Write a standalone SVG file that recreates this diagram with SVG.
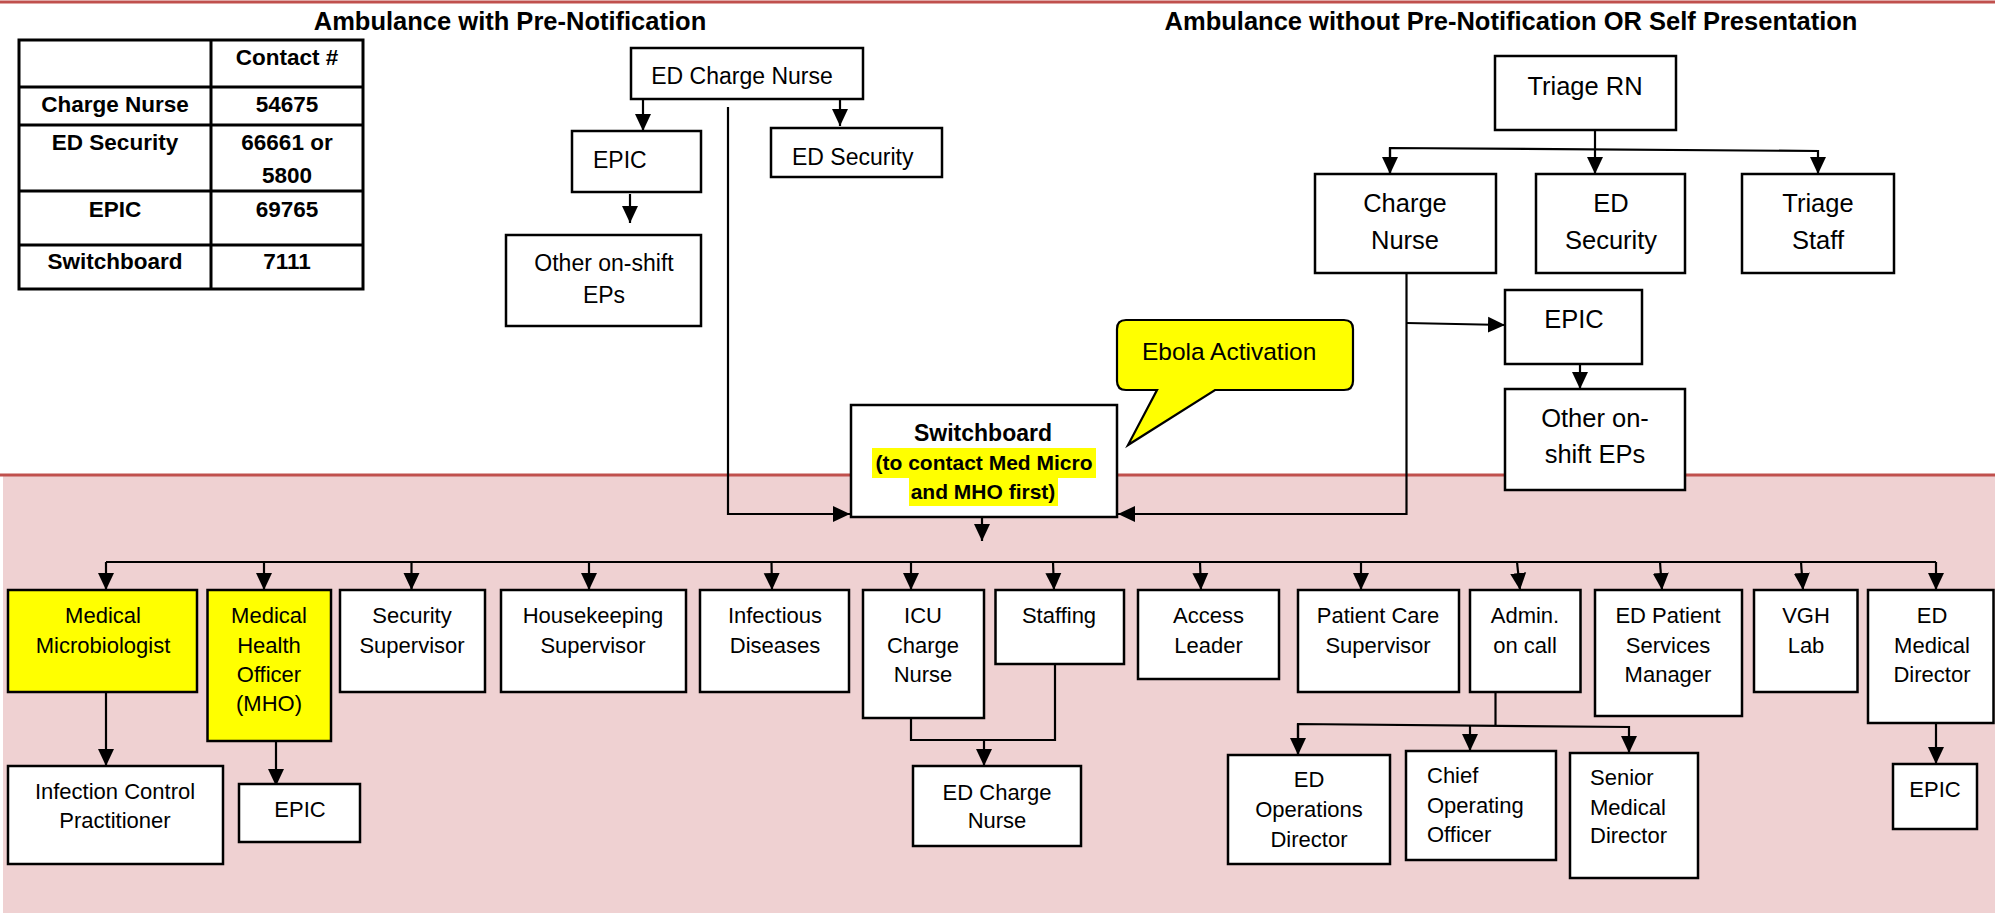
<svg xmlns="http://www.w3.org/2000/svg" width="1995" height="913" viewBox="0 0 1995 913">
<style>
text{font-family:"Liberation Sans",Arial,sans-serif;fill:#000}
.b{font-weight:bold}
.m{text-anchor:middle}
.t{font-size:25.5px;font-weight:bold;text-anchor:middle}
.tb{font-size:22.5px;font-weight:bold;text-anchor:middle}
.l23{font-size:23px}
.r25{font-size:25.5px;text-anchor:middle}
.s22{font-size:22px;text-anchor:middle}
.sl{font-size:22px}
.box{fill:#fff;stroke:#000;stroke-width:2.5}
.ybox{fill:#ffff00;stroke:#000;stroke-width:2.5}
.ln{fill:none;stroke:#000;stroke-width:2.2}
.tl{stroke:#000;stroke-width:3}
</style>
<defs>
<marker id="ah" markerUnits="userSpaceOnUse" markerWidth="18" markerHeight="18" viewBox="0 0 18 18" refX="17" refY="9" orient="auto">
<path d="M0,1 L17,9 L0,17 z" fill="#000"/>
</marker>
</defs>
<rect x="0" y="0" width="1995" height="913" fill="#fff"/>
<rect x="3" y="475" width="1992" height="438" fill="#efd1d2"/>
<line x1="0" y1="2" x2="1995" y2="2" stroke="#c0504d" stroke-width="3"/>
<line x1="0" y1="475" x2="1995" y2="475" stroke="#c0504d" stroke-width="3"/>

<g id="titles">
<text class="t" x="510" y="30">Ambulance with Pre-Notification</text>
<text class="t" x="1511" y="30">Ambulance without Pre-Notification OR Self Presentation</text>
</g>

<g id="contact-table">
<rect x="19" y="40" width="344" height="249" fill="#fff" stroke="#000" stroke-width="3"/>
<line class="tl" x1="211" y1="40" x2="211" y2="289"/>
<line class="tl" x1="19" y1="87" x2="363" y2="87"/>
<line class="tl" x1="19" y1="125" x2="363" y2="125"/>
<line class="tl" x1="19" y1="191" x2="363" y2="191"/>
<line class="tl" x1="19" y1="245" x2="363" y2="245"/>
<text class="tb" x="287" y="65">Contact #</text>
<text class="tb" x="115" y="112">Charge Nurse</text>
<text class="tb" x="287" y="112">54675</text>
<text class="tb" x="115" y="150">ED Security</text>
<text class="tb" x="287" y="150">66661 or</text>
<text class="tb" x="287" y="183">5800</text>
<text class="tb" x="115" y="217">EPIC</text>
<text class="tb" x="287" y="217">69765</text>
<text class="tb" x="115" y="269">Switchboard</text>
<text class="tb" x="287" y="269">7111</text>
</g>

<g id="connectors">
<line class="ln" x1="643" y1="99" x2="643" y2="131" marker-end="url(#ah)"/>
<line class="ln" x1="840" y1="99" x2="840" y2="126" marker-end="url(#ah)"/>
<line class="ln" x1="630" y1="194" x2="630" y2="223" marker-end="url(#ah)"/>
<polyline class="ln" points="728,107 728,514 850,514" marker-end="url(#ah)"/>
<line class="ln" x1="1595" y1="130" x2="1595" y2="174" marker-end="url(#ah)"/>
<polyline class="ln" points="1390,174 1390,148 1818,151 1818,174" marker-end="url(#ah)"/>
<line class="ln" x1="1390" y1="148" x2="1390" y2="174" marker-end="url(#ah)"/>
<polyline class="ln" points="1406.5,273 1406.5,514 1118,514" marker-end="url(#ah)"/>
<polyline class="ln" points="1406.5,323 1505,325" marker-end="url(#ah)"/>
<line class="ln" x1="1580" y1="364" x2="1580" y2="389" marker-end="url(#ah)"/>
<line class="ln" x1="982" y1="517" x2="982" y2="541" marker-end="url(#ah)"/>
<line class="ln" x1="106" y1="562" x2="1936" y2="562"/>
<line class="ln" x1="106" y1="562" x2="106" y2="590" marker-end="url(#ah)"/>
<line class="ln" x1="264" y1="562" x2="264" y2="590" marker-end="url(#ah)"/>
<line class="ln" x1="411.5" y1="562" x2="411.5" y2="590" marker-end="url(#ah)"/>
<line class="ln" x1="589" y1="562" x2="589" y2="590" marker-end="url(#ah)"/>
<line class="ln" x1="771.5" y1="562" x2="772" y2="590" marker-end="url(#ah)"/>
<line class="ln" x1="911" y1="562" x2="911" y2="590" marker-end="url(#ah)"/>
<line class="ln" x1="1053" y1="562" x2="1054" y2="590" marker-end="url(#ah)"/>
<line class="ln" x1="1200" y1="562" x2="1201" y2="590" marker-end="url(#ah)"/>
<line class="ln" x1="1361" y1="562" x2="1361" y2="590" marker-end="url(#ah)"/>
<line class="ln" x1="1517" y1="562" x2="1520" y2="590" marker-end="url(#ah)"/>
<line class="ln" x1="1660" y1="562" x2="1662" y2="590" marker-end="url(#ah)"/>
<line class="ln" x1="1801" y1="562" x2="1803" y2="590" marker-end="url(#ah)"/>
<line class="ln" x1="1936" y1="562" x2="1936" y2="590" marker-end="url(#ah)"/>
<line class="ln" x1="106" y1="692" x2="106" y2="766" marker-end="url(#ah)"/>
<line class="ln" x1="276" y1="741" x2="276" y2="786" marker-end="url(#ah)"/>
<polyline class="ln" points="911,718 911,740 1055,740 1055,664"/>
<line class="ln" x1="984" y1="740" x2="984" y2="766" marker-end="url(#ah)"/>
<line class="ln" x1="1495.5" y1="692" x2="1495.5" y2="725"/>
<polyline class="ln" points="1298,755 1298,724 1629,727 1629,753" marker-end="url(#ah)"/>
<line class="ln" x1="1298" y1="724" x2="1298" y2="755" marker-end="url(#ah)"/>
<line class="ln" x1="1470" y1="725.5" x2="1470" y2="751" marker-end="url(#ah)"/>
<line class="ln" x1="1936" y1="723" x2="1936" y2="764" marker-end="url(#ah)"/>
</g>

<g id="ed-charge-nurse-top">
<rect class="box" x="631" y="48" width="232" height="51"/>
<text class="l23 m" x="742" y="84">ED Charge Nurse</text>
</g>
<g id="epic-top-left">
<rect class="box" x="572" y="131" width="129" height="61"/>
<text class="l23" x="593" y="168">EPIC</text>
</g>
<g id="ed-security-top-left">
<rect class="box" x="771" y="128" width="171" height="49"/>
<text class="l23" x="792" y="165">ED Security</text>
</g>
<g id="other-eps-left">
<rect class="box" x="506" y="235" width="195" height="91"/>
<text class="l23 m" x="604" y="271">Other on-shift</text>
<text class="l23 m" x="604" y="303">EPs</text>
</g>

<g id="switchboard">
<rect class="box" x="851" y="405" width="266" height="112"/>
<rect x="872" y="448" width="224" height="30" fill="#ffff00"/>
<rect x="909" y="478" width="149" height="28" fill="#ffff00"/>
<text class="b m" style="font-size:23px" x="983" y="441">Switchboard</text>
<text class="b m" style="font-size:21px" x="984" y="470">(to contact Med Micro</text>
<text class="b m" style="font-size:21px" x="983" y="499">and MHO first)</text>
</g>

<g id="ebola-callout">
<path d="M1126,320 H1344 Q1353,320 1353,329 V381 Q1353,390 1344,390 H1215 L1128,445 L1157,390 H1126 Q1117,390 1117,381 V329 Q1117,320 1126,320 Z" fill="#ffff00" stroke="#000" stroke-width="2.2"/>
<text x="1142" y="360" style="font-size:24.5px">Ebola Activation</text>
</g>

<g id="triage-rn">
<rect class="box" x="1495" y="56" width="181" height="74"/>
<text class="r25" x="1585" y="95">Triage RN</text>
</g>
<g id="charge-nurse-right">
<rect class="box" x="1315" y="174" width="181" height="99"/>
<text class="r25" x="1405" y="212">Charge</text>
<text class="r25" x="1405" y="249">Nurse</text>
</g>
<g id="ed-security-right">
<rect class="box" x="1536" y="174" width="149" height="99"/>
<text class="r25" x="1611" y="212">ED</text>
<text class="r25" x="1611" y="249">Security</text>
</g>
<g id="triage-staff">
<rect class="box" x="1742" y="174" width="152" height="99"/>
<text class="r25" x="1818" y="212">Triage</text>
<text class="r25" x="1818" y="249">Staff</text>
</g>
<g id="epic-right">
<rect class="box" x="1505" y="290" width="137" height="74"/>
<text class="r25" x="1574" y="328">EPIC</text>
</g>
<g id="other-eps-right">
<rect class="box" x="1505" y="389" width="180" height="101"/>
<text class="r25" x="1595" y="427">Other on-</text>
<text class="r25" x="1595" y="463">shift EPs</text>
</g>

<g id="medical-microbiologist">
<rect class="ybox" x="8" y="590" width="189" height="102"/>
<text class="s22" x="103" y="623">Medical</text>
<text class="s22" x="103" y="653">Microbiologist</text>
</g>
<g id="mho">
<rect class="ybox" x="207.5" y="590" width="123.5" height="151"/>
<text class="s22" x="269" y="623">Medical</text>
<text class="s22" x="269" y="653">Health</text>
<text class="s22" x="269" y="682">Officer</text>
<text class="s22" x="269" y="711">(MHO)</text>
</g>
<g id="security-supervisor">
<rect class="box" x="340" y="590" width="145" height="102"/>
<text class="s22" x="412" y="623">Security</text>
<text class="s22" x="412" y="653">Supervisor</text>
</g>
<g id="housekeeping-supervisor">
<rect class="box" x="501" y="590" width="185" height="102"/>
<text class="s22" x="593" y="623">Housekeeping</text>
<text class="s22" x="593" y="653">Supervisor</text>
</g>
<g id="infectious-diseases">
<rect class="box" x="700" y="590" width="149" height="102"/>
<text class="s22" x="775" y="623">Infectious</text>
<text class="s22" x="775" y="653">Diseases</text>
</g>
<g id="icu-charge-nurse">
<rect class="box" x="863" y="590" width="121" height="128"/>
<text class="s22" x="923" y="623">ICU</text>
<text class="s22" x="923" y="653">Charge</text>
<text class="s22" x="923" y="682">Nurse</text>
</g>
<g id="staffing">
<rect class="box" x="995.5" y="590" width="128.5" height="74"/>
<text class="s22" x="1059" y="623">Staffing</text>
</g>
<g id="access-leader">
<rect class="box" x="1138" y="590" width="141" height="89"/>
<text class="s22" x="1208.5" y="623">Access</text>
<text class="s22" x="1208.5" y="653">Leader</text>
</g>
<g id="patient-care-supervisor">
<rect class="box" x="1298" y="590" width="161" height="102"/>
<text class="s22" x="1378" y="623">Patient Care</text>
<text class="s22" x="1378" y="653">Supervisor</text>
</g>
<g id="admin-on-call">
<rect class="box" x="1470" y="590" width="110.5" height="102"/>
<text class="s22" x="1525" y="623">Admin.</text>
<text class="s22" x="1525" y="653">on call</text>
</g>
<g id="ed-patient-services-manager">
<rect class="box" x="1595" y="590" width="147" height="126"/>
<text class="s22" x="1668" y="623">ED Patient</text>
<text class="s22" x="1668" y="653">Services</text>
<text class="s22" x="1668" y="682">Manager</text>
</g>
<g id="vgh-lab">
<rect class="box" x="1754" y="590" width="103.5" height="102"/>
<text class="s22" x="1806" y="623">VGH</text>
<text class="s22" x="1806" y="653">Lab</text>
</g>
<g id="ed-medical-director">
<rect class="box" x="1868" y="590" width="125.5" height="133"/>
<text class="s22" x="1932" y="623">ED</text>
<text class="s22" x="1932" y="653">Medical</text>
<text class="s22" x="1932" y="682">Director</text>
</g>

<g id="infection-control-practitioner">
<rect class="box" x="8" y="766" width="215" height="98"/>
<text class="s22" x="115" y="799">Infection Control</text>
<text class="s22" x="115" y="828">Practitioner</text>
</g>
<g id="epic-mho">
<rect class="box" x="239" y="784" width="121" height="58"/>
<text class="s22" x="300" y="817">EPIC</text>
</g>
<g id="ed-charge-nurse-bottom">
<rect class="box" x="913" y="766" width="168" height="80"/>
<text class="s22" x="997" y="800">ED Charge</text>
<text class="s22" x="997" y="828">Nurse</text>
</g>
<g id="ed-operations-director">
<rect class="box" x="1228" y="755" width="162" height="109"/>
<text class="s22" x="1309" y="787">ED</text>
<text class="s22" x="1309" y="817">Operations</text>
<text class="s22" x="1309" y="847">Director</text>
</g>
<g id="chief-operating-officer">
<rect class="box" x="1406" y="751" width="150" height="109"/>
<text class="sl" x="1427" y="783">Chief</text>
<text class="sl" x="1427" y="813">Operating</text>
<text class="sl" x="1427" y="842">Officer</text>
</g>
<g id="senior-medical-director">
<rect class="box" x="1570" y="753" width="128" height="125"/>
<text class="sl" x="1590" y="785">Senior</text>
<text class="sl" x="1590" y="815">Medical</text>
<text class="sl" x="1590" y="843">Director</text>
</g>
<g id="epic-ed-medical-director">
<rect class="box" x="1893" y="764" width="84" height="65"/>
<text class="s22" x="1935" y="797">EPIC</text>
</g>
</svg>
